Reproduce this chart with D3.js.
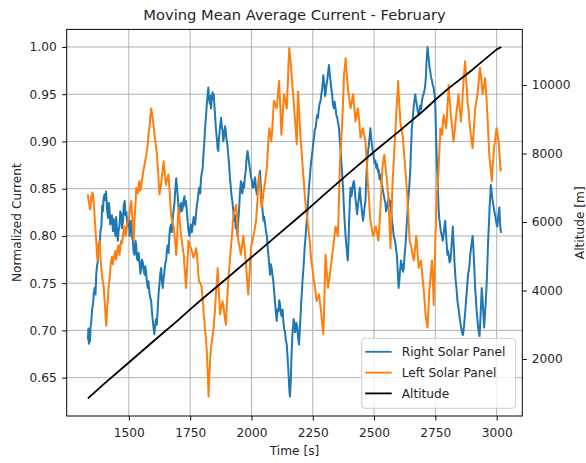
<!DOCTYPE html>
<html>
<head>
<meta charset="utf-8">
<script src="https://cdn.jsdelivr.net/npm/d3@7"></script>
<style>
  html, body { margin: 0; padding: 0; background: #fff; }
  svg { display: block; font-family: "DejaVu Sans", sans-serif; }
</style>
</head>
<body>
<svg id="chart" width="586" height="463"></svg>
<script>
// ---- Data ----
const chartTitle = "Moving Mean Average Current - February";
const xLabel = "Time [s]";
const yLabelLeft = "Normalized Current";
const yLabelRight = "Altitude [m]";
const seriesNames = ["Right Solar Panel", "Left Solar Panel", "Altitude"];

const xTicks = [1500, 1750, 2000, 2250, 2500, 2750, 3000];
const yTicksLeft = [0.65, 0.70, 0.75, 0.80, 0.85, 0.90, 0.95, 1.00];
const yTicksRight = [2000, 4000, 6000, 8000, 10000];

// Right Solar Panel: [time, normalized current]
const rightPanel = [
  [1333,0.690],[1335,0.702],[1337,0.686],[1339,0.700],[1341,0.688],[1344,0.704],[1347,0.710],[1350,0.722],[1354,0.728],[1357,0.740],[1361,0.745],[1364,0.738],[1367,0.760],[1370,0.768],[1374,0.774],[1377,0.792],[1381,0.790],[1384,0.805],[1388,0.810],
  [1391,0.832],[1394,0.826],[1397,0.840],[1401,0.844],[1404,0.838],[1407,0.847],[1411,0.828],[1415,0.819],[1418,0.835],[1421,0.830],[1424,0.812],[1428,0.816],[1431,0.822],[1435,0.805],[1438,0.818],[1442,0.810],[1445,0.800],[1448,0.820],[1451,0.808],[1455,0.795],
  [1458,0.805],[1462,0.812],[1465,0.826],[1469,0.823],[1472,0.808],[1476,0.815],[1479,0.832],[1483,0.837],[1486,0.822],[1490,0.825],[1493,0.812],[1496,0.810],[1500,0.820],[1503,0.800],[1506,0.812],[1510,0.816],[1513,0.800],[1516,0.795],[1520,0.782],[1523,0.780],
  [1527,0.795],[1530,0.790],[1533,0.776],[1537,0.774],[1540,0.782],[1544,0.770],[1547,0.760],[1550,0.766],[1553,0.775],[1557,0.772],[1560,0.764],[1564,0.759],[1567,0.768],[1570,0.762],[1574,0.750],[1577,0.745],[1580,0.752],[1584,0.740],[1587,0.735],[1591,0.731],
  [1594,0.720],[1597,0.712],[1601,0.702],[1604,0.696],[1607,0.705],[1611,0.712],[1614,0.706],[1618,0.724],[1621,0.738],[1625,0.750],[1628,0.760],[1632,0.766],[1635,0.752],[1638,0.745],[1642,0.756],[1645,0.762],[1648,0.770],[1652,0.774],[1655,0.785],[1658,0.790],
  [1662,0.782],[1665,0.800],[1668,0.808],[1672,0.812],[1675,0.804],[1679,0.819],[1682,0.826],[1686,0.835],[1689,0.848],[1693,0.861],[1696,0.852],[1700,0.840],[1703,0.828],[1706,0.823],[1710,0.832],[1713,0.835],[1716,0.826],[1720,0.830],[1723,0.838],[1727,0.842],
  [1730,0.832],[1733,0.837],[1737,0.825],[1740,0.815],[1743,0.806],[1747,0.800],[1750,0.808],[1753,0.812],[1757,0.804],[1760,0.810],[1764,0.820],[1767,0.818],[1770,0.812],[1774,0.823],[1777,0.832],[1781,0.838],[1784,0.846],[1787,0.851],[1791,0.845],[1794,0.860],
  [1797,0.866],[1801,0.872],[1804,0.886],[1808,0.900],[1811,0.915],[1815,0.928],[1818,0.940],[1820,0.945],[1822,0.952],[1824,0.957],[1827,0.946],[1830,0.940],[1832,0.948],[1835,0.935],[1838,0.944],[1841,0.952],[1844,0.945],[1846,0.950],[1849,0.938],[1851,0.930],
  [1853,0.922],[1855,0.914],[1858,0.905],[1860,0.900],[1862,0.892],[1865,0.890],[1867,0.902],[1870,0.910],[1873,0.918],[1876,0.925],[1879,0.916],[1882,0.912],[1885,0.900],[1889,0.907],[1892,0.916],[1895,0.912],[1898,0.903],[1902,0.897],[1905,0.886],[1909,0.875],
  [1912,0.862],[1916,0.851],[1919,0.842],[1923,0.835],[1926,0.826],[1930,0.816],[1933,0.822],[1936,0.808],[1940,0.812],[1943,0.800],[1946,0.815],[1950,0.830],[1953,0.846],[1957,0.858],[1960,0.848],[1963,0.845],[1967,0.856],[1970,0.851],[1973,0.862],[1977,0.870],
  [1980,0.882],[1984,0.890],[1987,0.884],[1990,0.878],[1993,0.872],[1995,0.869],[1998,0.862],[2001,0.860],[2004,0.852],[2008,0.851],[2011,0.858],[2015,0.862],[2018,0.850],[2022,0.844],[2025,0.850],[2028,0.855],[2032,0.862],[2035,0.869],[2038,0.852],[2042,0.840],
  [2045,0.828],[2049,0.816],[2052,0.820],[2056,0.812],[2059,0.805],[2063,0.800],[2066,0.788],[2069,0.780],[2073,0.768],[2076,0.759],[2079,0.770],[2083,0.765],[2086,0.758],[2089,0.752],[2093,0.740],[2096,0.730],[2099,0.720],[2103,0.710],[2106,0.722],[2110,0.720],
  [2113,0.732],[2117,0.727],[2120,0.718],[2123,0.715],[2127,0.722],[2130,0.710],[2133,0.702],[2137,0.698],[2140,0.690],[2144,0.685],[2147,0.672],[2150,0.660],[2152,0.650],[2154,0.640],[2156,0.632],[2157,0.630],[2159,0.640],[2161,0.650],[2163,0.672],[2166,0.690],
  [2168,0.700],[2170,0.705],[2172,0.712],[2174,0.710],[2177,0.698],[2180,0.700],[2183,0.708],[2187,0.703],[2190,0.692],[2194,0.685],[2196,0.695],[2198,0.705],[2201,0.720],[2203,0.731],[2206,0.742],[2208,0.752],[2211,0.762],[2214,0.774],[2217,0.788],[2221,0.800],
  [2224,0.812],[2228,0.823],[2231,0.838],[2234,0.850],[2238,0.862],[2241,0.872],[2244,0.880],[2248,0.888],[2251,0.896],[2255,0.904],[2258,0.912],[2262,0.915],[2265,0.922],[2268,0.928],[2271,0.925],[2275,0.935],[2278,0.940],[2282,0.943],[2285,0.950],[2288,0.955],
  [2291,0.963],[2293,0.970],[2296,0.962],[2298,0.958],[2300,0.948],[2302,0.950],[2305,0.958],[2309,0.965],[2312,0.972],[2316,0.981],[2319,0.972],[2322,0.965],[2326,0.955],[2329,0.950],[2332,0.940],[2336,0.935],[2339,0.942],[2343,0.935],[2346,0.928],[2350,0.925],
  [2353,0.920],[2357,0.914],[2360,0.902],[2364,0.890],[2367,0.876],[2370,0.865],[2374,0.848],[2377,0.830],[2380,0.815],[2384,0.800],[2386,0.792],[2389,0.785],[2391,0.778],[2393,0.774],[2396,0.795],[2398,0.815],[2401,0.835],[2404,0.851],[2408,0.842],[2411,0.848],
  [2414,0.855],[2418,0.858],[2421,0.850],[2424,0.840],[2428,0.830],[2431,0.823],[2434,0.832],[2437,0.838],[2440,0.846],[2442,0.851],[2445,0.840],[2449,0.830],[2452,0.822],[2455,0.816],[2458,0.822],[2460,0.828],[2463,0.834],[2465,0.837],[2468,0.860],[2472,0.879],
  [2475,0.888],[2478,0.895],[2482,0.905],[2485,0.914],[2489,0.902],[2492,0.895],[2496,0.888],[2499,0.883],[2502,0.877],[2505,0.880],[2509,0.872],[2512,0.876],[2516,0.868],[2519,0.870],[2522,0.860],[2526,0.865],[2529,0.858],[2532,0.855],[2536,0.848],[2539,0.844],
  [2543,0.838],[2546,0.835],[2549,0.826],[2553,0.830],[2556,0.836],[2560,0.840],[2563,0.832],[2567,0.837],[2570,0.826],[2573,0.818],[2577,0.808],[2580,0.800],[2584,0.796],[2587,0.792],[2590,0.785],[2593,0.780],[2595,0.770],[2597,0.760],[2599,0.750],[2600,0.745],
  [2603,0.752],[2605,0.760],[2608,0.768],[2610,0.774],[2613,0.765],[2615,0.770],[2618,0.762],[2621,0.766],[2624,0.778],[2628,0.790],[2631,0.802],[2634,0.816],[2637,0.828],[2640,0.840],[2643,0.850],[2645,0.858],[2648,0.872],[2650,0.888],[2652,0.900],[2654,0.914],
  [2658,0.925],[2661,0.935],[2664,0.942],[2668,0.950],[2671,0.944],[2675,0.938],[2678,0.932],[2682,0.928],[2685,0.932],[2688,0.938],[2692,0.934],[2695,0.943],[2699,0.948],[2702,0.950],[2706,0.955],[2709,0.960],[2712,0.972],[2714,0.985],[2716,0.992],[2718,1.000],
  [2721,0.992],[2724,0.985],[2726,0.978],[2729,0.975],[2732,0.968],[2736,0.965],[2739,0.960],[2743,0.957],[2745,0.952],[2747,0.950],[2749,0.942],[2750,0.935],[2753,0.905],[2756,0.879],[2760,0.852],[2763,0.830],[2766,0.818],[2770,0.810],[2772,0.805],[2775,0.802],
  [2778,0.798],[2780,0.795],[2783,0.800],[2785,0.805],[2788,0.812],[2790,0.816],[2793,0.805],[2795,0.795],[2797,0.788],[2799,0.780],[2802,0.784],[2805,0.778],[2808,0.772],[2811,0.774],[2814,0.782],[2816,0.790],[2819,0.800],[2821,0.810],[2823,0.798],[2826,0.785],
  [2828,0.772],[2831,0.759],[2833,0.752],[2836,0.745],[2838,0.738],[2840,0.731],[2843,0.726],[2846,0.720],[2848,0.715],[2851,0.710],[2854,0.705],[2857,0.700],[2860,0.697],[2862,0.695],[2865,0.700],[2867,0.705],[2869,0.712],[2871,0.717],[2874,0.728],[2876,0.735],
  [2879,0.744],[2881,0.752],[2884,0.760],[2887,0.765],[2890,0.772],[2892,0.780],[2895,0.786],[2897,0.790],[2900,0.796],[2902,0.800],[2905,0.788],[2907,0.775],[2910,0.760],[2912,0.745],[2915,0.735],[2917,0.725],[2920,0.716],[2922,0.710],[2924,0.704],[2926,0.700],
  [2928,0.697],[2930,0.694],[2933,0.708],[2935,0.720],[2937,0.732],[2939,0.745],[2942,0.735],[2944,0.725],[2947,0.712],[2949,0.703],[2951,0.712],[2953,0.720],[2955,0.728],[2957,0.738],[2960,0.755],[2962,0.770],[2964,0.785],[2966,0.800],[2969,0.815],[2971,0.830],
  [2974,0.842],[2976,0.854],[2978,0.850],[2980,0.845],[2982,0.840],[2984,0.837],[2987,0.832],[2989,0.828],[2991,0.825],[2993,0.823],[2996,0.818],[2998,0.815],[3000,0.812],[3003,0.810],[3005,0.816],[3007,0.822],[3009,0.826],[3011,0.830],[3013,0.818],[3016,0.806],
  [3019,0.803]
];

// Left Solar Panel: [time, normalized current]
const leftPanel = [
  [1333,0.844],[1335,0.838],[1338,0.835],[1341,0.828],[1344,0.830],[1346,0.842],[1349,0.838],[1351,0.846],[1354,0.844],[1356,0.836],[1358,0.830],[1361,0.818],[1363,0.810],[1366,0.798],[1368,0.790],[1370,0.780],[1372,0.774],[1374,0.780],[1376,0.785],[1378,0.792],
  [1381,0.795],[1383,0.784],[1385,0.775],[1388,0.765],[1390,0.759],[1392,0.755],[1394,0.752],[1396,0.748],[1398,0.745],[1400,0.735],[1403,0.725],[1405,0.715],[1408,0.705],[1410,0.714],[1412,0.725],[1415,0.735],[1417,0.745],[1420,0.752],[1423,0.760],[1425,0.768],
  [1428,0.774],[1431,0.778],[1435,0.770],[1438,0.776],[1442,0.780],[1445,0.784],[1448,0.775],[1451,0.780],[1455,0.787],[1458,0.790],[1462,0.780],[1465,0.788],[1469,0.795],[1472,0.792],[1476,0.800],[1479,0.806],[1483,0.810],[1486,0.800],[1490,0.805],[1493,0.812],
  [1496,0.816],[1500,0.820],[1503,0.825],[1506,0.832],[1510,0.837],[1512,0.825],[1515,0.815],[1518,0.805],[1520,0.795],[1522,0.812],[1525,0.825],[1528,0.838],[1530,0.851],[1533,0.848],[1537,0.845],[1540,0.852],[1543,0.858],[1547,0.848],[1550,0.852],[1554,0.860],
  [1557,0.865],[1560,0.870],[1564,0.875],[1567,0.880],[1571,0.886],[1573,0.890],[1576,0.895],[1578,0.900],[1580,0.907],[1583,0.914],[1586,0.920],[1588,0.928],[1591,0.935],[1594,0.930],[1597,0.925],[1600,0.918],[1602,0.914],[1605,0.906],[1608,0.900],[1612,0.892],
  [1615,0.886],[1617,0.875],[1620,0.865],[1622,0.855],[1625,0.844],[1627,0.848],[1630,0.852],[1632,0.856],[1634,0.861],[1636,0.866],[1638,0.870],[1640,0.874],[1642,0.879],[1645,0.872],[1647,0.865],[1649,0.858],[1652,0.854],[1654,0.858],[1656,0.860],[1658,0.862],
  [1661,0.865],[1664,0.855],[1667,0.845],[1669,0.834],[1672,0.823],[1675,0.818],[1678,0.815],[1680,0.812],[1683,0.810],[1686,0.802],[1688,0.795],[1691,0.788],[1693,0.780],[1696,0.792],[1698,0.805],[1700,0.818],[1702,0.830],[1705,0.822],[1708,0.815],[1710,0.808],
  [1713,0.800],[1716,0.795],[1718,0.790],[1721,0.785],[1724,0.780],[1726,0.770],[1729,0.762],[1731,0.752],[1733,0.745],[1736,0.758],[1738,0.770],[1741,0.782],[1743,0.795],[1746,0.792],[1749,0.790],[1751,0.788],[1754,0.787],[1756,0.784],[1759,0.782],[1761,0.779],
  [1764,0.777],[1767,0.780],[1770,0.782],[1772,0.785],[1775,0.787],[1778,0.778],[1781,0.770],[1783,0.760],[1786,0.752],[1789,0.751],[1792,0.750],[1794,0.748],[1797,0.745],[1800,0.736],[1803,0.728],[1805,0.718],[1808,0.710],[1810,0.702],[1813,0.695],[1815,0.688],
  [1817,0.682],[1819,0.670],[1821,0.660],[1823,0.645],[1825,0.630],[1827,0.645],[1830,0.660],[1832,0.672],[1835,0.682],[1838,0.687],[1841,0.692],[1843,0.698],[1846,0.703],[1848,0.712],[1851,0.720],[1853,0.730],[1855,0.738],[1857,0.745],[1859,0.752],[1861,0.760],
  [1862,0.766],[1865,0.752],[1867,0.740],[1870,0.728],[1872,0.717],[1875,0.721],[1877,0.725],[1880,0.728],[1882,0.731],[1886,0.724],[1889,0.718],[1892,0.712],[1896,0.706],[1898,0.718],[1900,0.730],[1903,0.741],[1905,0.752],[1908,0.761],[1911,0.770],[1913,0.778],
  [1916,0.787],[1919,0.796],[1922,0.805],[1924,0.814],[1927,0.823],[1930,0.826],[1933,0.828],[1935,0.830],[1938,0.833],[1940,0.824],[1942,0.815],[1944,0.805],[1946,0.795],[1949,0.792],[1952,0.788],[1954,0.784],[1957,0.780],[1959,0.785],[1962,0.790],[1964,0.795],
  [1967,0.800],[1969,0.794],[1972,0.787],[1974,0.780],[1977,0.774],[1979,0.765],[1982,0.755],[1984,0.746],[1987,0.738],[1990,0.750],[1993,0.762],[1995,0.774],[1998,0.787],[2000,0.790],[2003,0.793],[2005,0.796],[2008,0.800],[2011,0.804],[2014,0.808],[2016,0.812],
  [2019,0.816],[2022,0.828],[2025,0.840],[2027,0.852],[2030,0.865],[2033,0.856],[2036,0.848],[2038,0.839],[2041,0.830],[2044,0.835],[2047,0.840],[2049,0.846],[2052,0.851],[2055,0.856],[2058,0.862],[2060,0.867],[2063,0.872],[2065,0.884],[2068,0.895],[2070,0.905],
  [2073,0.914],[2075,0.910],[2077,0.907],[2079,0.904],[2081,0.900],[2084,0.911],[2087,0.922],[2089,0.932],[2092,0.943],[2095,0.941],[2098,0.939],[2100,0.937],[2103,0.935],[2105,0.942],[2108,0.950],[2110,0.957],[2113,0.964],[2115,0.950],[2118,0.935],[2120,0.921],
  [2122,0.907],[2125,0.918],[2128,0.930],[2130,0.940],[2133,0.950],[2136,0.946],[2139,0.942],[2141,0.938],[2144,0.935],[2146,0.950],[2149,0.965],[2151,0.982],[2154,0.999],[2157,0.991],[2160,0.983],[2162,0.975],[2165,0.967],[2167,0.958],[2170,0.950],[2172,0.942],
  [2174,0.935],[2177,0.925],[2180,0.915],[2182,0.906],[2185,0.897],[2187,0.925],[2190,0.953],[2192,0.943],[2194,0.933],[2196,0.924],[2198,0.914],[2200,0.904],[2203,0.895],[2205,0.887],[2207,0.879],[2210,0.870],[2212,0.862],[2215,0.853],[2217,0.844],[2219,0.838],
  [2221,0.833],[2223,0.828],[2225,0.823],[2228,0.818],[2230,0.812],[2233,0.806],[2235,0.800],[2238,0.794],[2240,0.787],[2242,0.780],[2244,0.774],[2247,0.768],[2250,0.763],[2252,0.757],[2255,0.752],[2258,0.747],[2261,0.742],[2263,0.736],[2266,0.731],[2268,0.733],
  [2271,0.735],[2273,0.736],[2275,0.738],[2278,0.733],[2280,0.728],[2283,0.722],[2285,0.717],[2287,0.711],[2289,0.705],[2291,0.700],[2293,0.696],[2296,0.718],[2298,0.740],[2300,0.760],[2302,0.780],[2305,0.771],[2307,0.762],[2310,0.753],[2312,0.745],[2315,0.750],
  [2318,0.755],[2320,0.760],[2323,0.766],[2325,0.771],[2328,0.776],[2330,0.782],[2333,0.787],[2335,0.792],[2338,0.798],[2340,0.804],[2343,0.810],[2345,0.808],[2348,0.805],[2350,0.802],[2352,0.800],[2355,0.820],[2357,0.840],[2359,0.860],[2361,0.879],[2364,0.890],
  [2366,0.900],[2368,0.910],[2370,0.921],[2372,0.933],[2374,0.945],[2376,0.958],[2377,0.970],[2381,0.979],[2384,0.988],[2386,0.979],[2389,0.970],[2391,0.963],[2393,0.957],[2396,0.951],[2399,0.946],[2401,0.940],[2404,0.935],[2407,0.939],[2410,0.943],[2412,0.947],
  [2415,0.950],[2417,0.942],[2420,0.935],[2422,0.928],[2424,0.921],[2427,0.925],[2429,0.928],[2432,0.932],[2434,0.935],[2437,0.928],[2440,0.920],[2442,0.912],[2445,0.904],[2447,0.906],[2450,0.909],[2452,0.912],[2455,0.914],[2457,0.910],[2460,0.907],[2462,0.904],
  [2465,0.900],[2467,0.890],[2470,0.880],[2472,0.869],[2474,0.858],[2477,0.848],[2480,0.837],[2482,0.826],[2485,0.816],[2488,0.812],[2491,0.808],[2493,0.804],[2496,0.800],[2499,0.802],[2502,0.805],[2504,0.808],[2507,0.810],[2510,0.806],[2513,0.802],[2515,0.798],
  [2518,0.795],[2520,0.803],[2522,0.812],[2524,0.821],[2526,0.830],[2528,0.840],[2530,0.851],[2532,0.862],[2534,0.872],[2536,0.876],[2538,0.880],[2540,0.883],[2542,0.886],[2544,0.880],[2546,0.875],[2548,0.870],[2550,0.865],[2553,0.858],[2555,0.851],[2557,0.844],
  [2559,0.837],[2561,0.824],[2563,0.812],[2565,0.800],[2567,0.787],[2569,0.803],[2571,0.820],[2573,0.837],[2575,0.854],[2577,0.863],[2579,0.873],[2581,0.883],[2583,0.893],[2585,0.902],[2587,0.912],[2589,0.922],[2591,0.932],[2593,0.940],[2595,0.948],[2597,0.956],
  [2598,0.964],[2600,0.953],[2602,0.942],[2605,0.931],[2607,0.921],[2610,0.916],[2612,0.912],[2615,0.908],[2618,0.904],[2620,0.894],[2623,0.885],[2626,0.875],[2629,0.865],[2631,0.858],[2633,0.851],[2635,0.844],[2637,0.837],[2639,0.826],[2641,0.816],[2643,0.805],
  [2645,0.795],[2647,0.793],[2649,0.791],[2651,0.789],[2653,0.787],[2655,0.783],[2657,0.780],[2660,0.777],[2662,0.774],[2665,0.780],[2667,0.787],[2670,0.793],[2672,0.800],[2675,0.791],[2677,0.783],[2680,0.774],[2682,0.766],[2684,0.768],[2686,0.770],[2689,0.772],
  [2691,0.774],[2694,0.767],[2696,0.760],[2699,0.752],[2702,0.745],[2704,0.738],[2706,0.731],[2708,0.724],[2710,0.717],[2712,0.713],[2714,0.710],[2716,0.706],[2718,0.703],[2720,0.713],[2722,0.724],[2724,0.734],[2726,0.745],[2729,0.752],[2731,0.760],[2734,0.767],
  [2736,0.774],[2738,0.762],[2740,0.750],[2742,0.738],[2743,0.727],[2745,0.746],[2747,0.765],[2749,0.782],[2750,0.800],[2752,0.811],[2753,0.822],[2755,0.833],[2756,0.844],[2758,0.851],[2760,0.858],[2762,0.865],[2763,0.872],[2765,0.882],[2767,0.893],[2769,0.903],
  [2770,0.914],[2772,0.912],[2774,0.910],[2776,0.908],[2777,0.907],[2779,0.912],[2780,0.918],[2782,0.923],[2784,0.928],[2787,0.924],[2789,0.921],[2792,0.917],[2794,0.914],[2797,0.925],[2799,0.937],[2802,0.948],[2804,0.960],[2806,0.952],[2808,0.944],[2811,0.936],
  [2813,0.928],[2816,0.921],[2819,0.914],[2821,0.907],[2824,0.900],[2827,0.907],[2830,0.914],[2832,0.921],[2835,0.928],[2837,0.933],[2840,0.939],[2842,0.944],[2844,0.950],[2847,0.942],[2849,0.935],[2852,0.928],[2854,0.921],[2857,0.931],[2860,0.942],[2862,0.953],
  [2865,0.964],[2866,0.970],[2868,0.975],[2870,0.980],[2871,0.985],[2874,0.975],[2876,0.964],[2879,0.954],[2881,0.943],[2884,0.936],[2887,0.928],[2889,0.921],[2892,0.914],[2894,0.908],[2897,0.903],[2899,0.898],[2902,0.893],[2905,0.904],[2907,0.914],[2910,0.925],
  [2912,0.935],[2915,0.939],[2917,0.943],[2920,0.947],[2922,0.950],[2924,0.957],[2927,0.964],[2929,0.971],[2932,0.978],[2935,0.971],[2938,0.964],[2940,0.957],[2943,0.950],[2945,0.954],[2948,0.958],[2950,0.962],[2953,0.967],[2955,0.958],[2958,0.948],[2960,0.938],
  [2962,0.928],[2964,0.918],[2966,0.907],[2968,0.896],[2970,0.886],[2972,0.879],[2975,0.872],[2978,0.865],[2980,0.858],[2982,0.866],[2984,0.875],[2987,0.884],[2989,0.893],[2992,0.898],[2995,0.904],[2997,0.909],[3000,0.914],[3002,0.910],[3004,0.907],[3006,0.903],
  [3008,0.900],[3010,0.892],[3012,0.885],[3014,0.877],[3016,0.869],[3019,0.872]
];

// Altitude: [time, metres]
const altitude = [
  [1333,850],[1400,1280],[1500,1900],[1600,2520],[1700,3130],[1750,3450],[1800,3760],[1900,4360],[2000,4970],
  [2100,5580],[2200,6190],[2250,6500],[2300,6820],[2400,7440],[2500,8050],[2600,8640],[2700,9240],[2750,9570],
  [2800,9880],[2900,10440],[3000,11040],[3019,11110]
];

// ---- Layout ----
const W = 586, H = 463;
const M = { left: 66.7, right: 522.3, top: 29.4, bottom: 416 };
const colors = { right: "#1f77b4", left: "#ff7f0e", alt: "#000000" };

const svg = d3.select("#chart");

const x = d3.scaleLinear().domain([1246.5, 3104.5]).range([M.left, M.right]);
const yL = d3.scaleLinear().domain([0.6094, 1.0186]).range([M.bottom, M.top]);
const yR = d3.scaleLinear().domain([337, 11623]).range([M.bottom, M.top]);

// Grid
const grid = svg.append("g").attr("class", "grid");
grid.selectAll("line.v").data(xTicks).enter().append("line")
  .attr("x1", d => x(d)).attr("x2", d => x(d))
  .attr("y1", M.top).attr("y2", M.bottom)
  .attr("stroke", "#b0b0b0").attr("stroke-width", 0.98);
grid.selectAll("line.h").data(yTicksLeft).enter().append("line")
  .attr("x1", M.left).attr("x2", M.right)
  .attr("y1", d => yL(d)).attr("y2", d => yL(d))
  .attr("stroke", "#b0b0b0").attr("stroke-width", 0.98);

// Clip
svg.append("clipPath").attr("id", "plotclip").append("rect")
  .attr("x", M.left).attr("y", M.top).attr("width", M.right - M.left).attr("height", M.bottom - M.top);

const plot = svg.append("g").attr("clip-path", "url(#plotclip)");
const lineL = d3.line().x(d => x(d[0])).y(d => yL(d[1]));
const lineR = d3.line().x(d => x(d[0])).y(d => yR(d[1]));

plot.append("path").datum(rightPanel).attr("d", lineL)
  .attr("fill", "none").attr("stroke", colors.right).attr("stroke-width", 2).attr("stroke-linejoin", "round");
plot.append("path").datum(leftPanel).attr("d", lineL)
  .attr("fill", "none").attr("stroke", colors.left).attr("stroke-width", 2).attr("stroke-linejoin", "round");
plot.append("path").datum(altitude).attr("d", lineR)
  .attr("fill", "none").attr("stroke", colors.alt).attr("stroke-width", 1.8).attr("stroke-linejoin", "round");

// Axes
const fontSize = 12.2;
function styleAxis(g) {
  g.selectAll("text").attr("font-family", "DejaVu Sans, sans-serif").attr("font-size", fontSize).attr("fill", "#262626");
  g.selectAll("line").attr("stroke", "#000").attr("stroke-width", 0.98);
  g.select(".domain").remove();
}
const xAxis = svg.append("g").attr("transform", `translate(0,${M.bottom})`)
  .call(d3.axisBottom(x).tickValues(xTicks).tickFormat(d3.format("d")).tickSize(4.5).tickPadding(8));
styleAxis(xAxis);
const yAxisL = svg.append("g").attr("transform", `translate(${M.left},0)`)
  .call(d3.axisLeft(yL).tickValues(yTicksLeft).tickFormat(d3.format(".2f")).tickSize(4.5).tickPadding(5.5));
styleAxis(yAxisL);
const yAxisR = svg.append("g").attr("transform", `translate(${M.right},0)`)
  .call(d3.axisRight(yR).tickValues(yTicksRight).tickFormat(d3.format("d")).tickSize(4.5).tickPadding(5));
styleAxis(yAxisR);

// Frame
svg.append("rect").attr("x", M.left).attr("y", M.top)
  .attr("width", M.right - M.left).attr("height", M.bottom - M.top)
  .attr("fill", "none").attr("stroke", "#000").attr("stroke-width", 0.98);

// Labels
svg.append("text").attr("x", (M.left + M.right) / 2).attr("y", 19.5)
  .attr("text-anchor", "middle").attr("font-size", 14.7).attr("fill", "#262626").text(chartTitle);
svg.append("text").attr("x", (M.left + M.right) / 2).attr("y", 455)
  .attr("text-anchor", "middle").attr("font-size", fontSize).attr("fill", "#262626").text(xLabel);
svg.append("text").attr("transform", `translate(20.5,${(M.top + M.bottom) / 2}) rotate(-90)`)
  .attr("text-anchor", "middle").attr("font-size", fontSize).attr("fill", "#262626").text(yLabelLeft);
svg.append("text").attr("transform", `translate(583.5,${(M.top + M.bottom) / 2}) rotate(-90)`)
  .attr("text-anchor", "middle").attr("font-size", fontSize).attr("fill", "#262626").text(yLabelRight);

// Legend
const lg = svg.append("g").attr("transform", "translate(361.7,338.3)");
lg.append("rect").attr("width", 154).attr("height", 70).attr("rx", 3.5).attr("ry", 3.5)
  .attr("fill", "#fff").attr("fill-opacity", 0.8).attr("stroke", "#cccccc").attr("stroke-width", 0.98);
const legendColors = [colors.right, colors.left, colors.alt];
seriesNames.forEach((name, i) => {
  const cy = 13.5 + i * 20.8;
  lg.append("line").attr("x1", 3.5).attr("x2", 30).attr("y1", cy).attr("y2", cy)
    .attr("stroke", legendColors[i]).attr("stroke-width", 1.8);
  lg.append("text").attr("x", 40).attr("y", cy).attr("dy", "0.35em")
    .attr("font-size", fontSize).attr("fill", "#262626").text(name);
});
</script>
</body>
</html>
